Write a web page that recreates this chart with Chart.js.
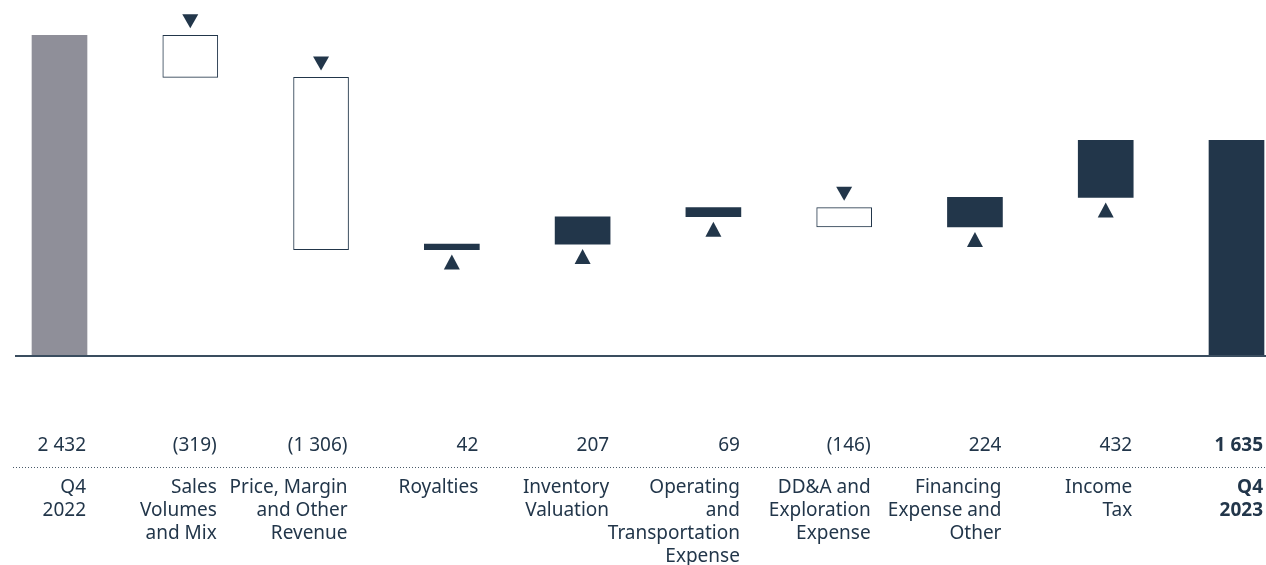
<!DOCTYPE html>
<html>
<head>
<meta charset="utf-8">
<script src="https://cdn.jsdelivr.net/npm/chart.js@4"></script>
<style>
    html, body { margin: 0; padding: 0; background: #fff; }
    #wrap { width: 1266px; height: 565px; }
</style>
</head>
<body>
<div id="wrap"><canvas id="graphCanvas"></canvas></div>
<script>
// data
var categories = [
    ["Q4", "2022"],
    ["Sales", "Volumes", "and Mix"],
    ["Price, Margin", "and Other", "Revenue"],
    ["Royalties"],
    ["Inventory", "Valuation"],
    ["Operating", "and", "Transportation", "Expense"],
    ["DD&A and", "Exploration", "Expense"],
    ["Financing", "Expense and", "Other"],
    ["Income", "Tax"],
    ["Q4", "2023"]
];
var values = [2432, -319, -1306, 42, 207, 69, -146, 224, 432, 1635];
var valueLabels = ["2 432", "(319)", "(1 306)", "42", "207", "69", "(146)", "224", "432", "1 635"];
var totals = [true, false, false, false, false, false, false, false, false, true];

var dark = "#22364a";
var grey = "#8f8f99";

// floating bars for the waterfall
var ranges = [];
var fills = [];
var run = 0;
for (var i = 0; i < values.length; i++) {
    if (totals[i]) {
        ranges.push([0, values[i]]);
        run = values[i];
        fills.push(i == 0 ? grey : dark);
    } else {
        ranges.push([run, run + values[i]]);
        run = run + values[i];
        fills.push(values[i] < 0 ? "#ffffff" : dark);
    }
}

var font = "'Noto Sans', 'Open Sans', sans-serif";

var extras = {
    id: "extras",
    afterDatasetsDraw: function (chart) {
        var ctx = chart.ctx;
        var yScale = chart.scales.y;
        var meta = chart.getDatasetMeta(0);
        ctx.save();

        // baseline
        var y0 = yScale.getPixelForValue(0);
        ctx.strokeStyle = "#3a4d5f";
        ctx.lineWidth = 2;
        ctx.beginPath();
        ctx.moveTo(15, y0);
        ctx.lineTo(chart.width, y0);
        ctx.stroke();

        // arrows
        ctx.fillStyle = dark;
        meta.data.forEach(function (bar, i) {
            if (totals[i]) return;
            var x = bar.x;
            var top = Math.min(bar.y, bar.base);
            var bottom = Math.max(bar.y, bar.base);
            ctx.beginPath();
            if (values[i] < 0) {
                ctx.moveTo(x - 8, top - 21);
                ctx.lineTo(x + 8, top - 21);
                ctx.lineTo(x, top - 7);
            } else {
                ctx.moveTo(x - 8, bottom + 20);
                ctx.lineTo(x + 8, bottom + 20);
                ctx.lineTo(x, bottom + 5);
            }
            ctx.closePath();
            ctx.fill();
        });

        // value row and category labels
        ctx.fillStyle = dark;
        ctx.textAlign = "right";
        ctx.textBaseline = "middle";
        meta.data.forEach(function (bar, i) {
            var right = bar.x + bar.width / 2 - 1;
            ctx.font = (i == values.length - 1 ? "bold " : "") + "19px " + font;
            ctx.fillText(valueLabels[i], right, 446);
            categories[i].forEach(function (line, j) {
                ctx.fillText(line, right, 488 + j * 23);
            });
        });

        // dotted separator
        ctx.strokeStyle = "#4a5a69";
        ctx.lineWidth = 1;
        ctx.setLineDash([1, 2]);
        ctx.beginPath();
        ctx.moveTo(13, 467.5);
        ctx.lineTo(chart.width, 467.5);
        ctx.stroke();

        ctx.restore();
    }
};

var chart1 = new Chart(document.getElementById("graphCanvas"), {
    type: "bar",
    data: {
        labels: categories,
        datasets: [
            {
                data: ranges,
                backgroundColor: fills,
                borderColor: dark,
                borderWidth: values.map(function (v, i) { return (!totals[i] && v < 0) ? 1 : 0; }),
                borderSkipped: false,
                barThickness: 55,
                clip: false
            }
        ]
    },
    options: {
        responsive: true,
        maintainAspectRatio: false,
        animation: false,
        layout: {
            padding: { left: 59.5, right: 29.5, top: 0, bottom: 209 }
        },
        plugins: {
            legend: { display: false },
            tooltip: { enabled: false }
        },
        scales: {
            x: { display: false, offset: false },
            y: { display: false, min: 0, max: 2700 }
        }
    },
    plugins: [extras]
});
</script>
</body>
</html>
